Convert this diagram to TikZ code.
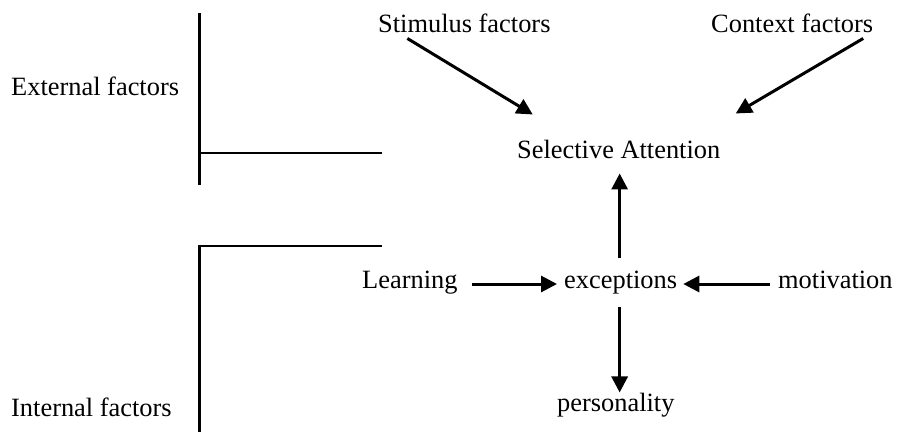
\documentclass[tikz,border=0pt]{standalone}
\usepackage{fontspec}
\setmainfont{Liberation Serif}
\usetikzlibrary{arrows.meta}

\begin{document}
\begin{tikzpicture}[x=1pt, y=-1pt,
  lbl/.style={inner sep=0pt, anchor=base west, font=\fontsize{26.4}{30}\selectfont},
  arr/.style={-{Triangle[length=16pt, width=16pt]}, line width=3pt},
  bar/.style={line width=2.4pt}]

  \useasboundingbox (0,0) rectangle (898,432);

  % Labels
  \node[lbl] (ext) at (11,95) {External factors};
  \node[lbl] (int) at (11,416) {Internal factors};
  \node[lbl] (stim) at (378,32) {Stimulus factors};
  \node[lbl] (ctx) at (711,32) {Context factors};
  \node[lbl] (sel) at (517,158) {Selective Attention};
  \node[lbl] (learn) at (362,288) {Learning};
  \node[lbl] (exc) at (564,288) {exceptions};
  \node[lbl] (mot) at (778,288) {motivation};
  \node[lbl] (pers) at (557,411) {personality};

  % Brackets
  \draw[bar] (199.5,13) -- (199.5,185);
  \draw[bar] (199.5,153) -- (382,153);
  \draw[bar] (382,246) -- (199.5,246) -- (199.5,432);

  % Draw arrows
  \draw[arr] ([shift={(-57,6)}]stim.south) -- ([shift={(-86,-25)}]sel.north);
  \draw[arr] ([shift={(71,6)}]ctx.south) -- ([shift={(117,-26)}]sel.north);
  \draw[arr] ([shift={(-1,-12)}]exc.north) -- ([shift={(-1,15)}]exc.north |- sel.south);
  \draw[arr] ([shift={(14,-4)}]learn.base east) -- ([shift={(-7,-4)}]exc.base west);
  \draw[arr] ([shift={(-8,-4)}]mot.base west) -- ([shift={(6,-4)}]exc.base east);
  \draw[arr] ([shift={(-1,13)}]exc.south) -- ([shift={(-1,0)}]exc.south |- pers.north);
\end{tikzpicture}
\end{document}
